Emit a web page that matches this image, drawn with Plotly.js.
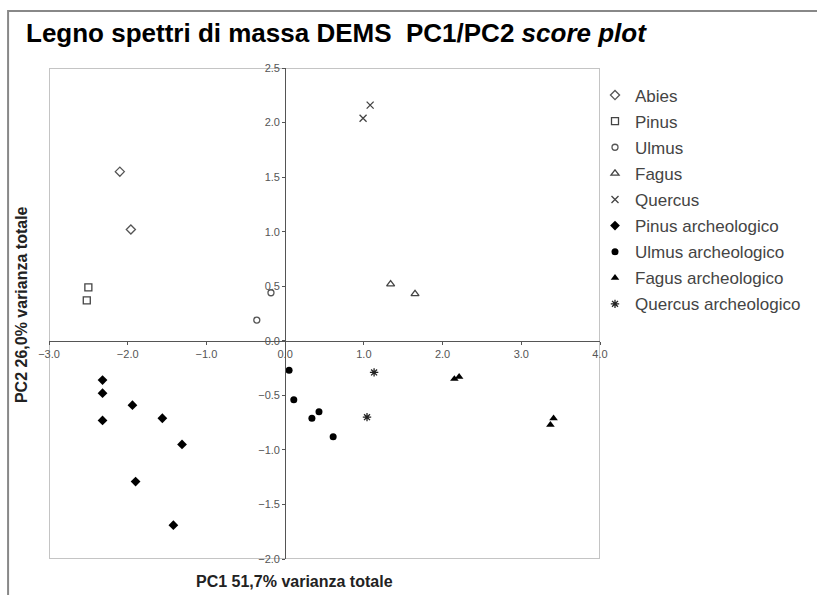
<!DOCTYPE html>
<html>
<head>
<meta charset="utf-8">
<script src="https://cdn.plot.ly/plotly-3.0.1.min.js"></script>
<style>html,body{margin:0;padding:0;background:#fff;}#chart{width:817px;height:595px;}</style>
</head>
<body>
<div id="chart"></div>
<script>
// Series names
const seriesNames = ["Abies","Pinus","Ulmus","Fagus","Quercus",
  "Pinus archeologico","Ulmus archeologico","Fagus archeologico","Quercus archeologico"];

// PC1 / PC2 scores
const abiesX = [-2.10, -1.96];
const abiesY = [1.55, 1.02];
const pinusX = [-2.50, -2.52];
const pinusY = [0.49, 0.37];
const ulmusX = [-0.36, -0.18];
const ulmusY = [0.19, 0.44];
const fagusX = [1.34, 1.65];
const fagusY = [0.52, 0.43];
const quercusX = [1.08, 0.99];
const quercusY = [2.16, 2.04];
const pinusArchX = [-2.32, -2.32, -2.32, -1.94, -1.56, -1.31, -1.90, -1.42];
const pinusArchY = [-0.36, -0.48, -0.73, -0.59, -0.71, -0.95, -1.29, -1.69];
const ulmusArchX = [0.05, 0.11, 0.34, 0.43, 0.61];
const ulmusArchY = [-0.27, -0.54, -0.71, -0.65, -0.88];
const fagusArchX = [2.15, 2.21, 3.37, 3.41];
const fagusArchY = [-0.35, -0.33, -0.77, -0.71];
const quercusArchX = [1.13, 1.04];
const quercusArchY = [-0.29, -0.70];

const xs = [abiesX, pinusX, ulmusX, fagusX, quercusX, pinusArchX, ulmusArchX, fagusArchX, quercusArchX];
const ys = [abiesY, pinusY, ulmusY, fagusY, quercusY, pinusArchY, ulmusArchY, fagusArchY, quercusArchY];
const symbols = ["diamond-open","square-open","circle-open","triangle-up-open","x-thin-open",
  "diamond","circle","triangle-up","asterisk-open"];
const sizes = [7,7,6,7,7,7.5,7,7.5,7];
const colors = ["#555","#444","#555","#444","#444","#000","#000","#000","#222"];

const traces = seriesNames.map((n,i)=>({
  type:"scatter", mode:"markers", name:n, x:xs[i], y:ys[i],
  legendgroup:"g"+i,
  marker:{symbol:symbols[i], size:sizes[i], color:colors[i],
    line:{width: symbols[i].endsWith("open") ? 1.3 : 0, color:colors[i]}},
  cliponaxis:false, hoverinfo:"x+y+name"
}));

const xMin=-3, xMax=4, yMin=-2, yMax=2.5;

const layout = {
  width:817, height:595,
  margin:{l:49, r:216, t:68, b:36},
  paper_bgcolor:"#fff", plot_bgcolor:"#fff",
  font:{family:"Arial, Liberation Sans, sans-serif", color:"#444"},
  title:{text:"<b>Legno spettri di massa DEMS&nbsp;&nbsp;PC1/PC2 <i>score plot</i></b>",
    xref:"container", yref:"container", x:26/817, xanchor:"left", y:1-33/595, yanchor:"middle",
    font:{family:"Arial, Liberation Sans, sans-serif", size:26, color:"#000"}},
  xaxis:{range:[xMin,xMax], dtick:1, tick0:0, tickformat:".1f", anchor:"free",
    position:(0-yMin)/(yMax-yMin), showgrid:false, zeroline:false, showline:true,
    linecolor:"#555", linewidth:1.3, ticks:"outside", ticklen:3, tickcolor:"#555",
    tickfont:{size:11, color:"#555"}, fixedrange:true},
  yaxis:{range:[yMin,yMax], dtick:0.5, tick0:0, tickformat:".1f", anchor:"free",
    position:(0-xMin)/(xMax-xMin), showgrid:false, zeroline:false, showline:true,
    linecolor:"#555", linewidth:1.3, ticks:"outside", ticklen:3, tickcolor:"#555",
    tickfont:{size:11, color:"#555"}, fixedrange:true},
  legend:{x:(595-49)/552, xanchor:"left", y:1-9.5/491, yanchor:"top", traceorder:"grouped",
    tracegroupgap:1, itemwidth:30, font:{size:17, color:"#444"}, bgcolor:"rgba(0,0,0,0)"},
  shapes:[
    {type:"rect", xref:"x", yref:"y", x0:xMin, x1:xMax, y0:yMin, y1:yMax,
     line:{color:"#c4c4c4", width:2}, layer:"below"},
    {type:"rect", xref:"paper", yref:"paper", x0:(8-49)/552, x1:2, y0:-0.5, y1:1+(68-11)/491,
     line:{color:"#888", width:2}, layer:"below"}
  ],
  annotations:[
    {text:"<b>PC1 51,7% varianza totale</b>", xref:"paper", yref:"paper",
     x:(295-49)/552, y:-(581-559)/491, xanchor:"center", yanchor:"middle", showarrow:false,
     font:{size:16, color:"#222"}},
    {text:"<b>PC2 26,0% varianza totale</b>", xref:"paper", yref:"paper",
     x:(21-49)/552, y:1-(305-68)/491, xanchor:"center", yanchor:"middle", showarrow:false,
     textangle:-90, font:{size:16, color:"#222"}}
  ]
};

Plotly.newPlot("chart", traces, layout, {displayModeBar:false, staticPlot:true});
</script>
</body>
</html>
